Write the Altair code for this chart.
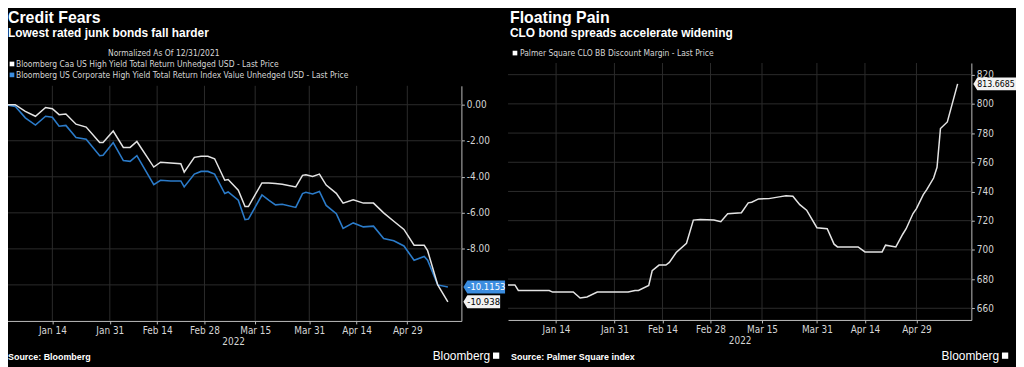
import altair as alt
import pandas as pd

# ---------------- data ----------------
left_dates = [
    "2021-12-31", "2022-01-03", "2022-01-06", "2022-01-09", "2022-01-12", "2022-01-14",
    "2022-01-16", "2022-01-18", "2022-01-21", "2022-01-24", "2022-01-28", "2022-01-29",
    "2022-02-01", "2022-02-04", "2022-02-06", "2022-02-08", "2022-02-13", "2022-02-15",
    "2022-02-18", "2022-02-21", "2022-02-22", "2022-02-25", "2022-02-27", "2022-03-01",
    "2022-03-03", "2022-03-06", "2022-03-07", "2022-03-10", "2022-03-12", "2022-03-13",
    "2022-03-17", "2022-03-19", "2022-03-21", "2022-03-23", "2022-03-27", "2022-03-29",
    "2022-03-30", "2022-04-01", "2022-04-03", "2022-04-05", "2022-04-08", "2022-04-10",
    "2022-04-13", "2022-04-16", "2022-04-19", "2022-04-22", "2022-04-25", "2022-04-28",
    "2022-05-01", "2022-05-04", "2022-05-05", "2022-05-08", "2022-05-11",
]
caa_values = [
    0.00, 0.00, -0.37, -0.64, -0.15, -0.22,
    -0.55, -0.51, -1.08, -1.24, -2.10, -2.10,
    -1.46, -2.37, -2.37, -2.04, -3.46, -3.19,
    -3.24, -3.28, -3.74, -2.92, -2.86, -2.86,
    -3.00, -4.19, -4.15, -4.74, -5.65, -5.65,
    -4.34, -4.34, -4.37, -4.41, -4.56, -3.92,
    -3.89, -3.98, -3.85, -4.46, -4.92, -5.46,
    -5.28, -5.46, -5.46, -6.00, -6.47, -6.92,
    -7.80, -7.80, -8.10, -10.00, -10.938,
]
hy_values = [
    0.00, -0.09, -0.73, -1.13, -0.64, -0.69,
    -1.19, -1.15, -1.82, -1.91, -2.83, -2.80,
    -2.10, -3.10, -3.14, -2.83, -4.43, -4.19,
    -4.23, -4.23, -4.56, -3.85, -3.70, -3.70,
    -3.85, -4.93, -4.84, -5.30, -6.38, -6.35,
    -5.01, -5.30, -5.56, -5.52, -5.70, -4.93,
    -4.86, -4.95, -4.81, -5.59, -6.05, -6.86,
    -6.56, -6.78, -6.74, -7.42, -7.55, -7.84,
    -8.63, -8.42, -8.63, -10.00, -10.1153,
]

right_dates = [
    "2021-12-31", "2022-01-02", "2022-01-03", "2022-01-12", "2022-01-13", "2022-01-19",
    "2022-01-21", "2022-01-23", "2022-01-26", "2022-02-04", "2022-02-06", "2022-02-07",
    "2022-02-10", "2022-02-11", "2022-02-13", "2022-02-15", "2022-02-16", "2022-02-18",
    "2022-02-21", "2022-02-23", "2022-02-25", "2022-03-01", "2022-03-03", "2022-03-05",
    "2022-03-09", "2022-03-11", "2022-03-12", "2022-03-14", "2022-03-17", "2022-03-20",
    "2022-03-22", "2022-03-24", "2022-03-26", "2022-03-28", "2022-03-31", "2022-04-03",
    "2022-04-05", "2022-04-06", "2022-04-12", "2022-04-14", "2022-04-19", "2022-04-20",
    "2022-04-23", "2022-04-25", "2022-04-26", "2022-04-28", "2022-04-29", "2022-05-01",
    "2022-05-02", "2022-05-04", "2022-05-05", "2022-05-06", "2022-05-08", "2022-05-11",
]
clo_values = [
    676.0, 676.0, 672.2, 672.2, 671.1, 671.1,
    667.0, 667.7, 671.1, 671.1, 672.2, 672.2,
    675.6, 685.7, 689.6, 689.6, 691.4, 698.2,
    704.5, 720.4, 720.8, 720.4, 719.3, 724.7,
    725.4, 732.2, 732.6, 734.9, 735.1, 736.3,
    737.1, 736.7, 731.0, 727.2, 715.2, 714.5,
    703.9, 702.0, 702.0, 698.6, 698.6, 703.2,
    702.0, 710.7, 714.5, 724.9, 728.3, 737.8,
    741.2, 749.2, 756.6, 783.1, 787.6, 813.6685,
]

tick_dates = ["2022-01-14", "2022-01-31", "2022-02-14", "2022-02-28",
              "2022-03-15", "2022-03-31", "2022-04-14", "2022-04-29"]
left_y_grid = [0, -2, -4, -6, -8, -10]
left_y_labels = [0, -2, -4, -6, -8]
right_y_ticks = [660, 680, 700, 720, 740, 760, 780, 800, 820]

# ---------------- layout / style ----------------
W, H = 1016, 359
L_XR, L_YR = [-3, 457], [314, 77]
R_XR, R_YR = [504, 971], [313, 54]
L_YD, R_YD = [-12, 1.05], [652, 828]

FONT = "Liberation Sans Narrow, DejaVu Sans Condensed, Liberation Sans, sans-serif"
TFONT = "Liberation Sans, Arial, sans-serif"
AX = "#bdbdbd"
TXT = "#d6d6d6"
GRID = "#2c2c2c"
WHITE_LINE = "#e4e4e4"
BLUE_LINE = "#2b7bc9"
BLUE_TAG = "#3b8de0"


def dt(s):
    y, m, d = (int(p) for p in s.split("-"))
    return alt.DateTime(year=y, month=m, date=d, utc=True)


x_domain = [dt("2021-12-31"), dt("2022-05-15")]
tick_dt = [dt(s) for s in tick_dates]


def x_axis(offset):
    return alt.Axis(
        values=tick_dt, labelExpr="utcFormat(datum.value, '%b %d')", orient="bottom",
        offset=offset, title="2022", grid=False, domainColor=AX, tickColor=AX,
        tickSize=3, labelColor=TXT, labelFont=FONT, labelFontSize=10, labelPadding=2,
        titleColor=TXT, titleFont=FONT, titleFontSize=10, titleFontWeight="normal",
        titlePadding=1, labelFlush=False,
    )


def y_axis(offset, values, expr):
    return alt.Axis(
        values=values, labelExpr=expr, orient="right", offset=offset, title=None,
        grid=False, domainColor=AX, tickColor=AX, tickSize=3, labelColor=TXT,
        labelFont=FONT, labelFontSize=10, labelPadding=2,
    )


L_XA = x_axis(L_YR[0] - H)
R_XA = x_axis(R_YR[0] - H)
L_YA = y_axis(L_XR[1] - W, left_y_labels,
              "replace(format(datum.value, '.2f'), '\u2212', '-')")
R_YA = y_axis(R_XR[1] - W, right_y_ticks, "format(datum.value, 'd')")


def lx():
    return alt.X("date:T", scale=alt.Scale(domain=x_domain, range=L_XR), axis=L_XA)


def ly():
    return alt.Y("value:Q", scale=alt.Scale(domain=L_YD, range=L_YR, zero=False, nice=False), axis=L_YA)


def rx():
    return alt.X("date:T", scale=alt.Scale(domain=x_domain, range=R_XR), axis=R_XA)


def ry():
    return alt.Y("value:Q", scale=alt.Scale(domain=R_YD, range=R_YR, zero=False, nice=False), axis=R_YA)


def tag_path(w, h):
    a = 4.0 / w
    hh = h / (2.0 * w)
    return f"M0,0 L{a:.3f},{-hh:.3f} L1,{-hh:.3f} L1,{hh:.3f} L{a:.3f},{hh:.3f} Z"


def tag(value, ych, x0, w, fill, tcolor, fs=9.5):
    df = pd.DataFrame({"value": [value], "label": [str(value)]})
    box = alt.Chart(df).mark_point(
        shape=tag_path(w, 13), filled=True, color=fill, opacity=1, size=(2 * w) ** 2, strokeWidth=0
    ).encode(x=alt.value(x0), y=ych)
    txt = alt.Chart(df).mark_text(
        align="left", baseline="middle", font=FONT, fontSize=fs, color=tcolor
    ).encode(x=alt.value(x0 + 4), y=ych, text="label:N")
    return [box, txt]


def label(text, x, y, size, color="white", weight="normal", align="left", font=FONT):
    return alt.Chart(alt.Data(values=[{"k": 1}])).mark_text(
        align=align, baseline="alphabetic", font=font, fontSize=size,
        fontWeight=weight, color=color
    ).encode(x=alt.value(x), y=alt.value(y), text=alt.value(text))


def square(x, y, color, size=22):
    return alt.Chart(alt.Data(values=[{"k": 1}])).mark_point(
        shape="square", filled=True, color=color, opacity=1, size=size
    ).encode(x=alt.value(x), y=alt.value(y))


# ---------------- left panel ----------------
tick_df = pd.DataFrame({"date": tick_dates})
caa_df = pd.DataFrame({"date": left_dates, "value": caa_values})
hy_df = pd.DataFrame({"date": left_dates, "value": hy_values})
clo_df = pd.DataFrame({"date": right_dates, "value": clo_values})

l_vgrid = alt.Chart(tick_df).mark_rule(color=GRID, strokeWidth=1).encode(
    x=lx(), y=alt.value(L_YR[1]), y2=alt.value(L_YR[0]))
l_hgrid = alt.Chart(pd.DataFrame({"value": left_y_grid})).mark_rule(color=GRID, strokeWidth=1).encode(
    y=ly(), x=alt.value(L_XR[0]), x2=alt.value(L_XR[1]))
l_blue = alt.Chart(hy_df).mark_line(color=BLUE_LINE, strokeWidth=1.6).encode(x=lx(), y=ly())
l_white = alt.Chart(caa_df).mark_line(color=WHITE_LINE, strokeWidth=1.5).encode(x=lx(), y=ly())

left = alt.layer(
    l_vgrid, l_hgrid, l_blue, l_white,
    *tag(hy_values[-1], ly(), L_XR[1] + 2, 42, BLUE_TAG, "white"),
    *tag(caa_values[-1], ly(), L_XR[1] + 2, 37, "#f2f2f2", "black"),
)

# ---------------- right panel ----------------
r_vgrid = alt.Chart(tick_df).mark_rule(color=GRID, strokeWidth=1).encode(
    x=rx(), y=alt.value(R_YR[1]), y2=alt.value(R_YR[0]))
r_hgrid = alt.Chart(pd.DataFrame({"value": right_y_ticks})).mark_rule(color=GRID, strokeWidth=1).encode(
    y=ry(), x=alt.value(R_XR[0]), x2=alt.value(R_XR[1]))
r_line = alt.Chart(clo_df).mark_line(color=WHITE_LINE, strokeWidth=1.5).encode(x=rx(), y=ry())

right = alt.layer(
    r_vgrid, r_hgrid, r_line,
    *tag(clo_values[-1], ry(), R_XR[1] + 2, 43, "#f2f2f2", "black", fs=8.8),
)

# ---------------- text ----------------
texts = [
    label("Credit Fears", 0, 14, 16, weight="bold", font=TFONT),
    label("Lowest rated junk bonds fall harder", 0, 28, 12, weight="bold", font=TFONT),
    label("Normalized As Of 12/31/2021", 157, 47, 8.5, color=TXT, align="center"),
    square(4, 55, "white"),
    label("Bloomberg Caa US High Yield Total Return Unhedged USD - Last Price", 8, 58, 8.5, color=TXT),
    square(4, 66, BLUE_TAG),
    label("Bloomberg US Corporate High Yield Total Return Index Value Unhedged USD - Last Price", 8, 69, 8.5, color=TXT),
    label("Source: Bloomberg", 0, 353, 9, weight="bold", font=TFONT),
    label("Bloomberg", 486, 353, 12, align="right", font=TFONT),
    square(492, 349, "white", 40),
    label("Floating Pain", 506, 14, 16, weight="bold", font=TFONT),
    label("CLO bond spreads accelerate widening", 506, 28, 12, weight="bold", font=TFONT),
    square(511, 44, "white"),
    label("Palmer Square CLO BB Discount Margin - Last Price", 516, 47, 8.5, color=TXT),
    label("Source: Palmer Square index", 507, 353, 9, weight="bold", font=TFONT),
    label("Bloomberg", 999, 353, 12, align="right", font=TFONT),
    square(1005, 349, "white", 40),
]

chart = alt.layer(left, right, *texts).resolve_scale(
    x="independent", y="independent"
).resolve_axis(
    x="independent", y="independent"
).properties(
    width=W, height=H, autosize=alt.AutoSizeParams(type="none"), padding=0,
    background="black",
).configure_view(strokeWidth=0)

chart.save("out.html", embed_options={"renderer": "svg", "actions": False})
